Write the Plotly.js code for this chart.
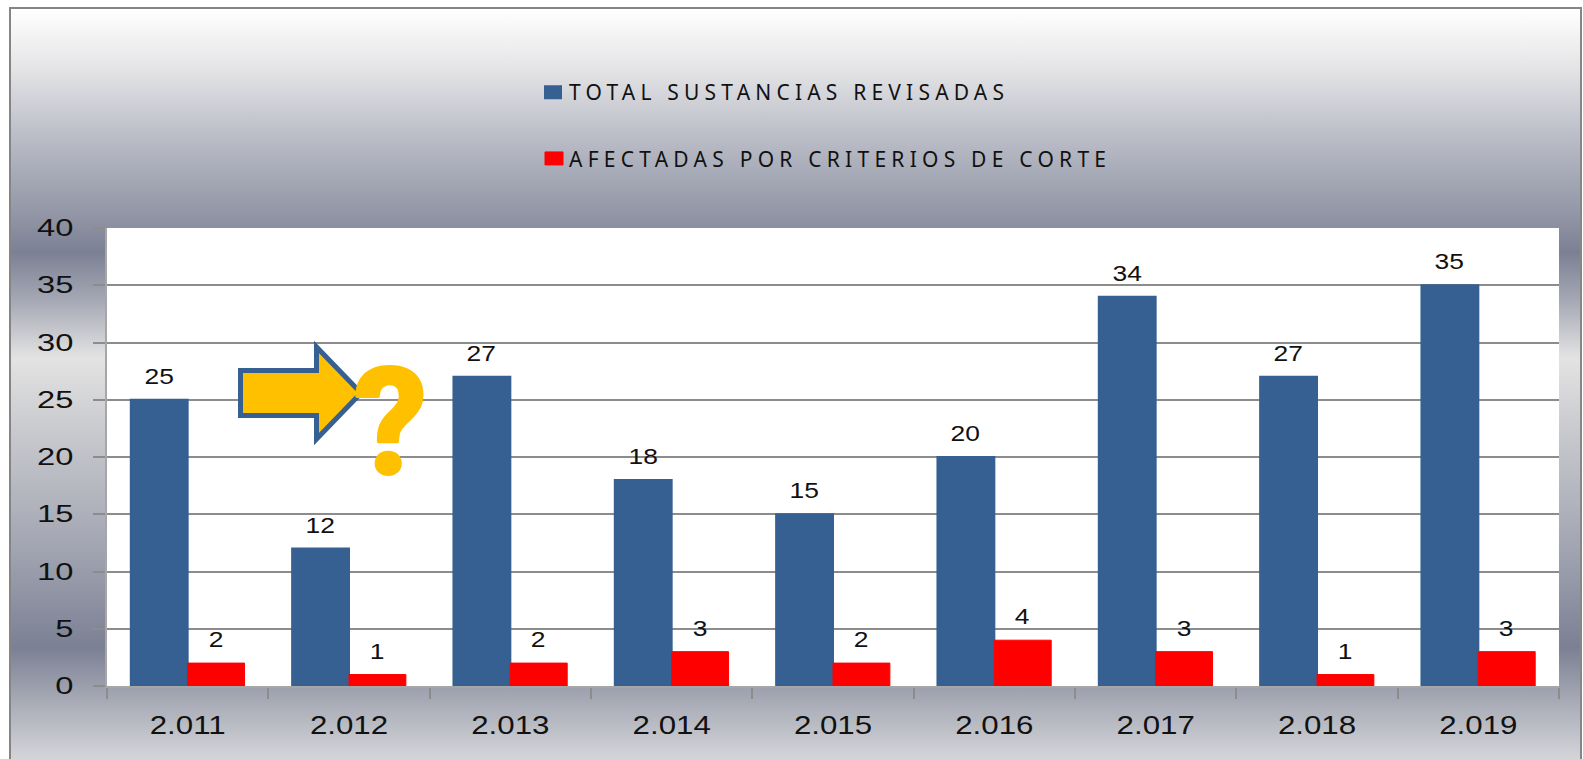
<!DOCTYPE html>
<html>
<head>
<meta charset="utf-8">
<script src="https://cdn.plot.ly/plotly-3.0.1.min.js"></script>
<style>
html,body{margin:0;padding:0;background:#fff;overflow:hidden}
#bg{position:absolute;left:9px;top:7px;width:1569px;height:752px;border:solid #858585;border-width:2px 2px 0 2px;
background:linear-gradient(to bottom,#ffffff 0px,#e4e4e6 60px,#b9bcc6 130px,#8d91a2 215px,#7b8094 243px,#a4a7b3 290px,#e3e3e3 349px,#c6c7cc 430px,#a5a8b4 530px,#7b8094 639px,#a6a9b4 690px,#d4d5d9 750px)}
#chart{position:absolute;left:0;top:0;width:1583px;height:759px}
</style>
</head>
<body>
<div id="bg"></div>
<div id="chart"></div>
<script>
const years = ['2.011','2.012','2.013','2.014','2.015','2.016','2.017','2.018','2.019'];
const totalRevisadas = [25,12,27,18,15,20,34,27,35];
const afectadas = [2,1,2,3,2,4,3,1,3];
const yTicks = [0,5,10,15,20,25,30,35,40];
const nameTotal = 'TOTAL SUSTANCIAS REVISADAS';
const nameAfectadas = 'AFECTADAS POR CRITERIOS DE CORTE';
const W = 1583, H = 759, mL = 107, mR = 24, mT = 228, mB = 73;
const px = x => (x - mL) / (W - mL - mR);
const py = y => 1 - (y - mT) / (H - mT - mB);
const arrowPts = [[240.5,370.5],[316.5,370.5],[316.5,347],[361,393],[316.5,439],[316.5,415.5],[240.5,415.5]];
const arrowPath = 'M' + arrowPts.map(p => px(p[0]) + ',' + py(p[1])).join(' L') + ' Z';

const labelFont = {family:'"Liberation Sans",Arial,sans-serif', size:22, color:'#111'};
const annotations = [];
years.forEach((yr,i)=>{
  annotations.push({x:i,y:totalRevisadas[i],text:String(totalRevisadas[i]),showarrow:false,xref:'x',yref:'y',yanchor:'bottom',xshift:-29,yshift:9,font:labelFont});
  annotations.push({x:i,y:afectadas[i],text:String(afectadas[i]),showarrow:false,xref:'x',yref:'y',yanchor:'bottom',xshift:28,yshift:9,font:labelFont});
});
annotations.push({xref:'paper',yref:'paper',x:px(390),y:py(423),text:'?',showarrow:false,xanchor:'center',yanchor:'middle',
  font:{family:'Roboto,sans-serif',size:146,color:'#FFC000',weight:700}});

const traces = [
 {type:'bar',x:years,y:totalRevisadas,name:nameTotal,legendgroup:'a',marker:{color:'#366092',line:{color:'#366092',width:2}},hoverinfo:'x+y'},
 {type:'bar',x:years,y:afectadas,name:nameAfectadas,legendgroup:'b',marker:{color:'#FF0000',line:{color:'#FF0000',width:1}},hoverinfo:'x+y'}
];
const layout = {
  width:W,height:H,margin:{l:mL,r:mR,t:mT,b:mB,pad:0},autosize:false,
  paper_bgcolor:'rgba(0,0,0,0)',plot_bgcolor:'#ffffff',
  barmode:'group',bargap:0.295,bargroupgap:0,
  showlegend:true,
  legend:{orientation:'v',xref:'paper',yref:'paper',x:px(529),xanchor:'left',y:py(72),yanchor:'top',bgcolor:'rgba(0,0,0,0)',
    tracegroupgap:36,traceorder:'grouped',font:{family:'"Noto Sans",sans-serif',size:21,color:'#111'}},
  xaxis:{type:'category',categoryorder:'array',categoryarray:years,tickson:'boundaries',ticks:'outside',ticklen:11,tickwidth:2,tickcolor:'#8c8c8c',
    showline:true,linecolor:'#a6a6a6',linewidth:2,showgrid:false,zeroline:false,ticklabelstandoff:16,
    tickfont:{family:'"Liberation Sans",Arial,sans-serif',size:25,color:'#111'}},
  yaxis:{range:[0,40],tickvals:yTicks,ticktext:yTicks.map(String),ticks:'outside',ticklen:12,tickwidth:2,tickcolor:'#8c8c8c',
    showline:true,linecolor:'#a6a6a6',linewidth:2,showgrid:true,gridcolor:'#8c8c8c',gridwidth:2,zeroline:false,ticklabelstandoff:15,
    tickfont:{family:'"Liberation Sans",Arial,sans-serif',size:23,color:'#111'}},
  shapes:[{type:'path',xref:'paper',yref:'paper',path:arrowPath,fillcolor:'#FFC000',line:{color:'#366092',width:5},layer:'above'}],
  annotations
};
function stretch(sel,f,mode){
  document.querySelectorAll(sel).forEach(t=>{
    const l=t.getComputedTextLength();
    t.setAttribute('textLength',l*f);
    t.setAttribute('lengthAdjust',mode||'spacingAndGlyphs');
  });
}
Plotly.newPlot('chart',traces,layout,{displayModeBar:false,responsive:false}).then(()=>{
  stretch('.xtick text',1.25);
  stretch('.ytick text',1.42);
  stretch('.annotation-text',1.2);
  document.querySelectorAll('.annotation-text').forEach(t=>{ if(t.textContent==='?'){
    t.removeAttribute('textLength');t.removeAttribute('lengthAdjust');
    t.style.stroke='#FFC000';t.style.strokeWidth='4px';t.style.strokeLinejoin='round';
  }});
  document.querySelectorAll('.legend [clip-path], .legend .scrollbox').forEach(g=>g.removeAttribute('clip-path'));
  const widths=[435,537];
  document.querySelectorAll('.legendtext').forEach((t,i)=>{t.setAttribute('textLength',widths[i]);t.setAttribute('lengthAdjust','spacing');});
  const sw=[['M8,6H-8V-6H8Z',24],['M9,6.5H-9V-6.5H9Z',25]];
  document.querySelectorAll('.legendpoints path').forEach((p,i)=>{p.setAttribute('d',sw[i][0]);p.setAttribute('transform','translate('+sw[i][1]+',0)');});
});
</script>
</body>
</html>
